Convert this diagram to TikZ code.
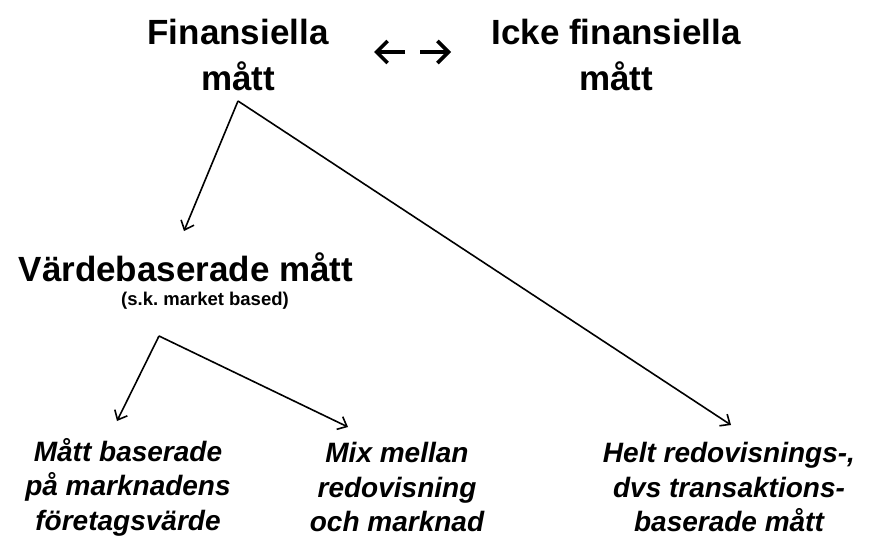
\documentclass[tikz,border=0pt]{standalone}
\usepackage{fontspec}
\setmainfont{Liberation Sans}
\usetikzlibrary{arrows.meta}
\frenchspacing
\tikzset{
  head/.style={align=center, font=\fontsize{35}{46}\selectfont\bfseries, inner sep=0pt},
  subnote/.style={font=\fontsize{18.5}{22}\selectfont\bfseries, inner sep=0pt},
  leaf/.style={align=center, font=\fontsize{28}{34.5}\selectfont\bfseries\itshape, inner sep=0pt},
  link/.style={line width=1.6pt, -{Straight Barb[length=8pt,width=14pt,line width=1.6pt]}},
  duo/.style={line width=3.6pt, -{Straight Barb[length=11pt,width=22pt,line width=3.6pt]}},
}
\begin{document}
\begin{tikzpicture}[x=1pt,y=-1pt]
\useasboundingbox (0,0) rectangle (878,544);
% top level
\node[head] (fin) at (238,55) {Finansiella\\mått};
\node[head] (icke) at (616,55) {Icke finansiella\\mått};
% two-way relation between the top-level groups
\coordinate (lA) at (405,52);
\coordinate (lB) at (374,52);
\coordinate (rA) at (420,52);
\coordinate (rB) at (451,52);
\draw[duo] (lA) -- (lB);
\draw[duo] (rA) -- (rB);
% value based branch
\node[head] (vard) at (186,267) {Värdebaserade mått};
\node[subnote] (sk) at (205,301) {(s.k.\ market based)};
% leaves
\node[leaf] (marknad) at (128,487) {Mått baserade\\på marknadens\\företagsvärde};
\node[leaf] (mix) at (397,487) {Mix mellan\\redovisning\\och marknad};
\node[leaf] (helt) at (729,487) {Helt redovisnings-,\\dvs transaktions-\\baserade mått};
% branch points and arrow ends
\coordinate (top) at (238,101);
\coordinate (mid) at (159,336);
\coordinate (t1) at (184,231);
\coordinate (t2) at (731,425);
\coordinate (t3) at (117,421);
\coordinate (t4) at (348,427);
\draw[link] (top) -- (t1);
\draw[link] (top) -- (t2);
\draw[link] (mid) -- (t3);
\draw[link] (mid) -- (t4);
\end{tikzpicture}
\end{document}
